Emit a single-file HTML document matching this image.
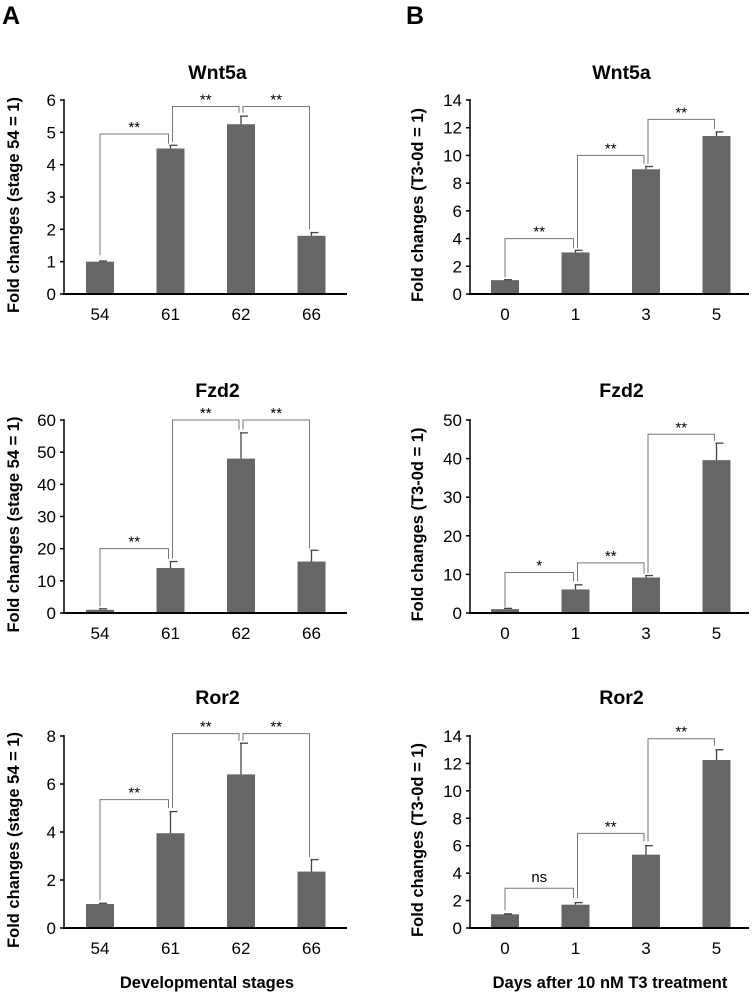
<!DOCTYPE html>
<html><head><meta charset="utf-8"><style>
html,body{margin:0;padding:0;background:#fff}
svg{display:block;font-family:"Liberation Sans",Arial,sans-serif}
</style></head><body>
<svg id="fig" width="754" height="994" viewBox="0 0 754 994" xmlns="http://www.w3.org/2000/svg"></svg>
<script>
// ---- data ----
const catsA = ["54","61","62","66"];
const catsB = ["0","1","3","5"];
const wntA = [1.0, 4.5, 5.25, 1.8];
const wntAErr = [0.02, 0.1, 0.25, 0.1];
const fzdA = [1.0, 14, 48, 16];
const fzdAErr = [0.3, 2, 8, 3.5];
const rorA = [1.0, 3.95, 6.4, 2.35];
const rorAErr = [0.03, 0.9, 1.3, 0.5];
const wntB = [1.0, 3.0, 9.0, 11.4];
const wntBErr = [0.03, 0.15, 0.2, 0.3];
const fzdB = [1.0, 6.1, 9.2, 39.6];
const fzdBErr = [0.2, 1.2, 0.5, 4.4];
const rorB = [1.0, 1.7, 5.35, 12.25];
const rorBErr = [0.03, 0.15, 0.65, 0.75];
const ticksWnt = [0,1,2,3,4,5,6];
const ticksFzdA = [0,10,20,30,40,50,60];
const ticksRorA = [0,2,4,6,8];
const ticks14 = [0,2,4,6,8,10,12,14];
const ticksFzdB = [0,10,20,30,40,50];
// brackets: [from, to, top, leftLegEnd, rightLegEnd, label]
const brWntA = [[0,1,4.95,1.2,4.65,"**"],[1,2,5.8,4.7,5.6,"**"],[2,3,5.8,5.6,2.0,"**"]];
const brFzdA = [[0,1,20,2,16.8,"**"],[1,2,60,17,57,"**"],[2,3,60,57,20,"**"]];
const brRorA = [[0,1,5.35,1.15,5.0,"**"],[1,2,8.1,5.0,7.8,"**"],[2,3,8.1,7.8,2.95,"**"]];
const brWntB = [[0,1,4.0,1.2,3.3,"**"],[1,2,10.0,3.3,9.4,"**"],[2,3,12.6,9.4,11.9,"**"]];
const brFzdB = [[0,1,10.5,1.6,8.2,"*"],[1,2,13,8.2,10.2,"**"],[2,3,46.3,10.3,44.6,"**"]];
const brRorB = [[0,1,2.9,1.3,2.2,"ns"],[1,2,6.9,2.2,6.3,"**"],[2,3,13.8,6.3,13.3,"**"]];

const NS="http://www.w3.org/2000/svg";
const svg=document.getElementById('fig');
function mk(tag,attrs,parent,text){const e=document.createElementNS(NS,tag);for(const k in attrs)e.setAttribute(k,attrs[k]);if(text!==undefined)e.textContent=text;(parent||svg).appendChild(e);return e;}

function panel(o){
  const g=mk('g',{});
  
  
  const yS=v=>o.y0-(v/o.max)*(o.y0-o.y1);
  const xS=i=>o.cx0+i*o.step;
  const t=mk('text',{x:(o.ax+o.axEnd)/2+12,y:o.titleY,'text-anchor':'middle','font-size':19.5,'font-weight':'bold'},g,o.title);
  
  
  const yt=mk('text',{x:0,y:0,'text-anchor':'middle','font-size':16.5,'font-weight':'bold',transform:`translate(${o.ytX},${(o.y0+o.y1)/2+8}) rotate(-90)`},g,o.ytitle);
  
  
  o.ticks.forEach(v=>{
    const y=yS(v);
    mk('line',{x1:o.ax-4,x2:o.ax,y1:y,y2:y,stroke:'#000','stroke-width':1.5},g);
    const tl=mk('text',{x:o.ax-8,y:y+6,'text-anchor':'end','font-size':17},g,String(v));
    
    
  });
  o.vals.forEach((v,i)=>{
    const cx=xS(i),top=yS(v);
    const b=mk('rect',{x:cx-14,y:top,width:28,height:o.y0-top,fill:'#666'},g);
    
    
    const et=yS(v+o.err[i]);
    mk('line',{x1:cx,x2:cx,y1:top,y2:et,stroke:'#444','stroke-width':1.3},g);
    mk('line',{x1:cx-1,x2:cx+7,y1:et,y2:et,stroke:'#444','stroke-width':1.3},g);
    const xl=mk('text',{x:cx,y:o.y0+26,'text-anchor':'middle','font-size':17},g,o.cats[i]);
    
    
  });
  o.br.forEach(b=>{
    const xa=xS(b[0])+(b[0]===0?0:2), xb=xS(b[1])-2;
    const yt2=yS(b[2]);
    const p=mk('path',{d:`M${xa} ${yS(b[3])}V${yt2}H${xb}V${yS(b[4])}`,fill:'none',stroke:'#777','stroke-width':1},g);
    
    
    const s=mk('text',{x:(xa+xb)/2,y:yt2-(b[5]==='ns'?6:2),'text-anchor':'middle','font-size':b[5]==='ns'?15:15},g,b[5]);
    
    
  });
  mk('line',{x1:o.ax,x2:o.ax,y1:o.y1-1,y2:o.y0,stroke:'#000','stroke-width':1.5},g);
  mk('line',{x1:o.ax-1,x2:o.axEnd,y1:o.y0,y2:o.y0,stroke:'#000','stroke-width':2},g);
}
const A={ax:64,axEnd:347,cx0:100,step:70.5,ytX:19};
const B={ax:470,axEnd:749,cx0:505,step:70.5,ytX:423};
const rows=[{titleY:79,y1:100,y0:294},{titleY:397,y1:420,y0:613},{titleY:704,y1:736,y0:928}];
const ytA="Fold changes (stage 54 = 1)", ytB="Fold changes (T3-0d = 1)";
panel(Object.assign({},A,rows[0],{name:'panel-a-wnt5a',title:'Wnt5a',ytitle:ytA,vals:wntA,err:wntAErr,max:6,ticks:ticksWnt,cats:catsA,br:brWntA}));
panel(Object.assign({},A,rows[1],{name:'panel-a-fzd2',title:'Fzd2',ytitle:ytA,vals:fzdA,err:fzdAErr,max:60,ticks:ticksFzdA,cats:catsA,br:brFzdA}));
panel(Object.assign({},A,rows[2],{name:'panel-a-ror2',title:'Ror2',ytitle:ytA,vals:rorA,err:rorAErr,max:8,ticks:ticksRorA,cats:catsA,br:brRorA}));
panel(Object.assign({},B,rows[0],{name:'panel-b-wnt5a',title:'Wnt5a',ytitle:ytB,vals:wntB,err:wntBErr,max:14,ticks:ticks14,cats:catsB,br:brWntB}));
panel(Object.assign({},B,rows[1],{name:'panel-b-fzd2',title:'Fzd2',ytitle:ytB,vals:fzdB,err:fzdBErr,max:50,ticks:ticksFzdB,cats:catsB,br:brFzdB}));
panel(Object.assign({},B,rows[2],{name:'panel-b-ror2',title:'Ror2',ytitle:ytB,vals:rorB,err:rorBErr,max:14,ticks:ticks14,cats:catsB,br:brRorB}));
const la=mk('text',{x:2,y:24,'font-size':25,'font-weight':'bold'},svg,'A');


const lb=mk('text',{x:406,y:24,'font-size':25,'font-weight':'bold'},svg,'B');


const xa=mk('text',{x:207,y:988,'text-anchor':'middle','font-size':16.5,'font-weight':'bold'},svg,'Developmental stages');


const xb=mk('text',{x:610,y:988,'text-anchor':'middle','font-size':16.5,'font-weight':'bold'},svg,'Days after 10 nM T3 treatment');


</script>
</body></html>
